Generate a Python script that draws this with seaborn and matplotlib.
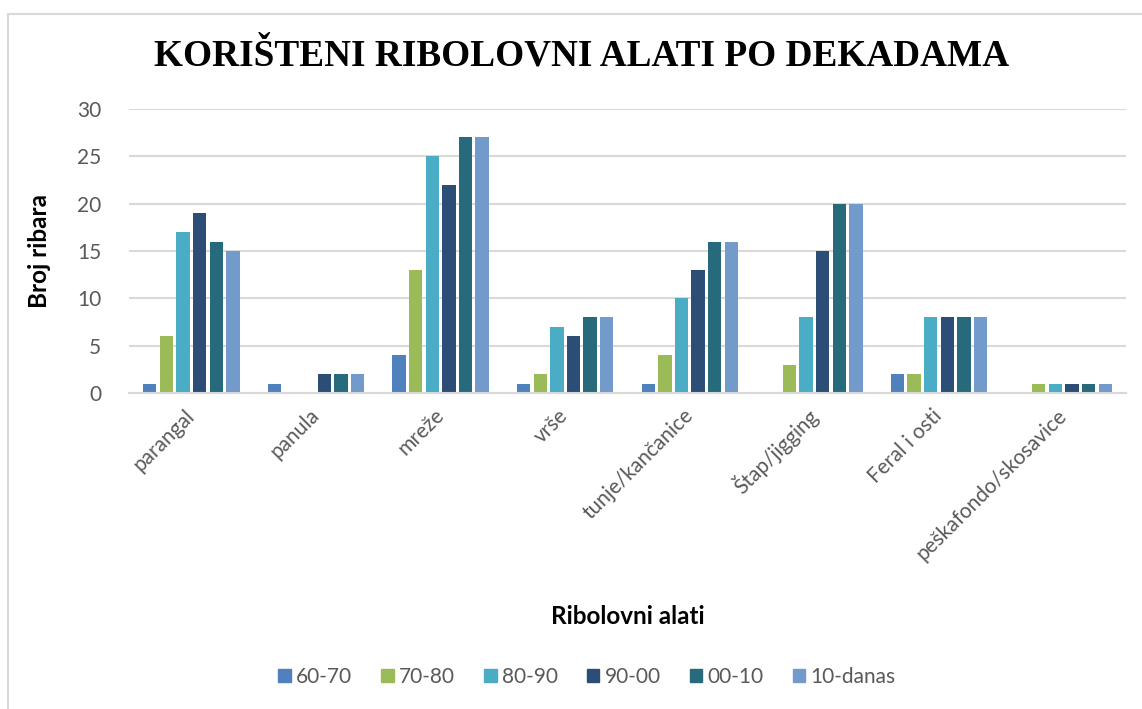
import matplotlib
matplotlib.use("Agg")
import matplotlib.pyplot as plt
import matplotlib.patches as mpatches
import numpy as np
import pandas as pd
import seaborn as sns

# === data ===
TOOLS = ["parangal", "panula", "mreže", "vrše", "tunje/kančanice",
         "Štap/jigging", "Feral i osti", "peškafondo/skosavice"]
DECADES = ["60-70", "70-80", "80-90", "90-00", "00-10", "10-danas"]
V_60_70 = [1, 1, 4, 1, 1, 0, 2, 0]
V_70_80 = [6, 0, 13, 2, 4, 3, 2, 1]
V_80_90 = [17, 0, 25, 7, 10, 8, 8, 1]
V_90_00 = [19, 2, 22, 6, 13, 15, 8, 1]
V_00_10 = [16, 2, 27, 8, 16, 20, 8, 1]
V_10_DANAS = [15, 2, 27, 8, 16, 20, 8, 1]

TITLE = "KORIŠTENI RIBOLOVNI ALATI PO DEKADAMA"
X_LABEL = "Ribolovni alati"
Y_LABEL = "Broj ribara"
COLORS = ["#4F81BD", "#9BBB59", "#4BACC6", "#2C4D75", "#276A7C", "#729ACA"]
GRID = "#D9D9D9"
TXT = "#595959"
SANS = ["Lato", "DejaVu Sans"]


def draw():
    series = [V_60_70, V_70_80, V_80_90, V_90_00, V_00_10, V_10_DANAS]
    rows = {"alat": [], "dekada": [], "broj": []}
    for dec, vals in zip(DECADES, series):
        for tool, v in zip(TOOLS, vals):
            rows["alat"].append(tool)
            rows["dekada"].append(dec)
            rows["broj"].append(v)
    df = pd.DataFrame(rows)

    sns.set_theme(style="white")
    plt.rcParams["font.family"] = SANS

    fig = plt.figure(figsize=(11.42, 7.09), dpi=100)
    ax = fig.add_axes([129 / 1142, 1 - 393 / 709, (1126 - 129) / 1142, (393 - 109) / 709])

    sns.barplot(data=df, x="alat", y="broj", hue="dekada", order=TOOLS,
                hue_order=DECADES, palette=COLORS, width=0.8, gap=0.2,
                saturation=1, errorbar=None, linewidth=0, ax=ax)

    ax.set_ylim(0, 30)
    ax.set_yticks(np.arange(0, 31, 5))
    ax.yaxis.grid(True, color=GRID, linewidth=1.5)
    ax.set_axisbelow(True)
    for s in ["top", "right", "left"]:
        ax.spines[s].set_visible(False)
    ax.spines["bottom"].set_color(GRID)
    ax.spines["bottom"].set_linewidth(1.5)
    ax.tick_params(axis="both", length=0, colors=TXT, labelsize=15)
    ax.tick_params(axis="y", pad=20)
    plt.setp(ax.get_xticklabels(), rotation=45, ha="right",
             rotation_mode="anchor", va="center")
    ax.tick_params(axis="x", pad=14)

    ax.set_xlabel(X_LABEL, fontsize=17.5, fontweight="bold", color="black")
    ax.xaxis.set_label_coords(0.5, -0.745)
    ax.set_ylabel(Y_LABEL, fontsize=17.5, fontweight="bold", color="black")
    ax.yaxis.set_label_coords(-0.078, 0.5)

    fig.text(582 / 1142, 1 - 56 / 709, TITLE, ha="center", va="center",
             fontsize=26.8, fontweight="bold", family="Liberation Serif",
             color="black")

    handles = [mpatches.Patch(color=c, label=d) for c, d in zip(COLORS, DECADES)]
    ax.legend_.remove()
    fig.legend(handles=handles, loc="center", ncol=6, frameon=False,
               bbox_to_anchor=(587 / 1142, 1 - 677 / 709), fontsize=15,
               handlelength=0.6, handleheight=0.6, handletextpad=0.25,
               columnspacing=1.4, labelcolor=TXT)

    # light frame around the chart area
    fig.patches.append(mpatches.Rectangle((8 / 1142, -0.05), 1.1, 1 - 14 / 709 + 0.05,
                                          transform=fig.transFigure, fill=False,
                                          edgecolor=GRID, linewidth=1.5))

    fig.savefig("out.png", dpi=100)


if __name__ == "__main__":
    draw()
